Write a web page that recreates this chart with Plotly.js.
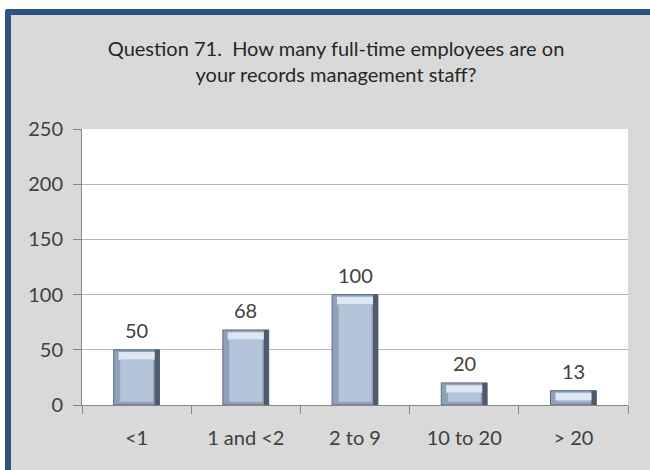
<!DOCTYPE html>
<html>
<head>
<meta charset="utf-8">
<script src="https://cdn.plot.ly/plotly-3.0.1.min.js"></script>
<style>
  body { margin: 0; background: #ffffff; }
  #frame {
    position: absolute; left: 5px; top: 9px; width: 650px; height: 470px;
    background: #d9d9d9;
    border-left: 6px solid #2c5384; border-top: 6px solid #2c5384;
    border-top-left-radius: 3px;
  }
  #chart { position: absolute; left: 0; top: 0; width: 650px; height: 470px; }
</style>
</head>
<body>
<div id="frame"></div>
<div id="chart"></div>
<script>
// Question 71 answers
const categories = ["<1", "1 and <2", "2 to 9", "10 to 20", "> 20"];
const counts = [50, 68, 100, 20, 13];
const yTicks = [0, 50, 100, 150, 200, 250];

const FONT = "Lato, sans-serif";

// bevelled bar look built from stacked overlay bars
const outer = {
  type: "bar", x: categories, y: counts, width: 0.42,
  marker: { color: "#8fa1ba", line: { color: "#5d6a7d", width: 1 } },
  hoverinfo: "skip"
};
const rightShade = {
  type: "bar", x: categories, y: counts, width: 0.045, offset: 0.165,
  marker: { color: "#4f5b6c", line: { width: 0 } },
  hoverinfo: "skip"
};
const topLight = {
  type: "bar", x: categories, y: counts.map(() => 7), base: counts.map(v => v - 9),
  width: 0.33,
  marker: { color: "#dde6f2", line: { width: 0 } },
  hoverinfo: "skip"
};
const face = {
  type: "bar", x: categories, y: counts.map(v => Math.max(v - 12, 1)), base: 3,
  width: 0.30,
  marker: { color: "#b4c4da", line: { width: 0 } },
  hoverinfo: "skip"
};

const labels = categories.map((c, i) => ({
  x: c, y: counts[i], text: String(counts[i]),
  xref: "x", yref: "y", yanchor: "bottom", yshift: 6,
  showarrow: false,
  font: { family: FONT, size: 20, color: "#404040" }
}));

const layout = {
  width: 650,
  height: 470,
  margin: { l: 82, r: 22, t: 129, b: 65 },
  paper_bgcolor: "rgba(0,0,0,0)",
  plot_bgcolor: "#ffffff",
  showlegend: false,
  barmode: "overlay",
  font: { family: FONT, size: 20, color: "#404040" },
  title: {
    text: "Question 71.  How many full-time employees are on<br>your records management staff?",
    font: { family: FONT, size: 20, color: "#262626" },
    x: 0.517, xanchor: "center",
    y: 0.881, yanchor: "middle"
  },
  annotations: labels,
  xaxis: {
    type: "category",
    tickson: "boundaries",
    ticks: "outside",
    ticklen: 8,
    tickcolor: "#868686",
    showline: true,
    linecolor: "#868686",
    showgrid: false,
    ticklabelstandoff: 15,
    tickfont: { size: 20, color: "#404040" }
  },
  yaxis: {
    range: [0, 250],
    tickvals: yTicks,
    ticks: "outside",
    ticklen: 8,
    tickcolor: "#868686",
    showline: true,
    linecolor: "#868686",
    gridcolor: "#b8b8b8",
    zeroline: false,
    ticklabelstandoff: 6,
    tickfont: { size: 20, color: "#404040" }
  }
};

Plotly.newPlot("chart", [outer, rightShade, topLight, face], layout, { displayModeBar: false, staticPlot: true });
</script>
</body>
</html>
